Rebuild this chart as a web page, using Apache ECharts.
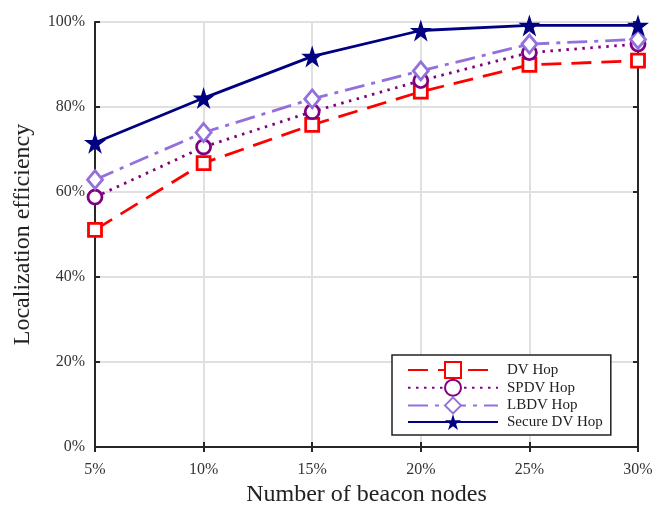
<!DOCTYPE html>
<html><head><meta charset="utf-8">
<script src="https://cdn.jsdelivr.net/npm/echarts@6/dist/echarts.min.js"></script>
<style>html,body{margin:0;padding:0;background:#fff}#c{width:652px;height:505px}</style>
</head><body><div id="c"></div>
<script>
const categories = ['5%', '10%', '15%', '20%', '25%', '30%'];
const dvHop = [51.1, 66.8, 75.8, 83.6, 89.9, 90.9];
const spdvHop = [58.8, 70.6, 78.9, 86.2, 92.8, 94.8];
const lbdvHop = [62.9, 74.0, 81.9, 88.5, 94.8, 95.9];
const secureDvHop = [71.6, 82.1, 91.9, 98.0, 99.2, 99.2];
const yTicks = [0, 20, 40, 60, 80, 100];
const seriesNames = ['DV Hop', 'SPDV Hop', 'LBDV Hop', 'Secure DV Hop'];

const font = 'Liberation Serif, Times New Roman, serif';
const star = 'path://M0 -1 L0.2245 -0.309 L0.951 -0.309 L0.363 0.118 L0.588 0.809 L0 0.382 L-0.588 0.809 L-0.363 0.118 L-0.951 -0.309 L-0.2245 -0.309 Z';
const axisLine = {show: true, lineStyle: {color: '#262626', width: 2}};
const tick = {show: true, inside: true, length: 5, lineStyle: {color: '#262626', width: 2}};

function mk(name, data, color, type, symbol, size, fill) {
  return {
    name, type: 'line', data, symbol, symbolSize: size, showAllSymbol: true,
    lineStyle: {color, width: 2.8, type},
    itemStyle: {color: fill ? color : '#fff', borderColor: color, borderWidth: fill ? 0 : 2.8},
    emphasis: {disabled: true}, z: 3
  };
}

const chart = echarts.init(document.getElementById('c'), null, {renderer: 'canvas'});
chart.setOption({
  animation: false,
  backgroundColor: '#fff',
  grid: {left: 95, top: 22, right: 14, bottom: 58, containLabel: false, outerBoundsMode: 'none'},
  xAxis: [{
    type: 'category', data: categories, boundaryGap: false, position: 'bottom',
    name: 'Number of beacon nodes', nameLocation: 'middle', nameGap: 27,
    nameTextStyle: {fontFamily: font, fontSize: 24, color: '#222'},
    axisLine, axisTick: {...tick, alignWithLabel: true},
    axisLabel: {fontFamily: font, fontSize: 16, color: '#333', margin: 15},
    splitLine: {show: true, lineStyle: {color: '#e0e0e0', width: 2}}
  }, {
    type: 'category', data: categories, boundaryGap: false, position: 'top',
    axisLine, axisTick: tick, axisLabel: {show: false}, splitLine: {show: false}
  }],
  yAxis: [{
    type: 'value', min: 0, max: 100, interval: 20, position: 'left',
    name: 'Localization efficiency', nameLocation: 'middle', nameGap: 60,
    nameTextStyle: {fontFamily: font, fontSize: 24, color: '#222'},
    axisLine, axisTick: tick,
    axisLabel: {fontFamily: font, fontSize: 16, color: '#333', margin: 10,
      formatter: v => yTicks.includes(v) ? v + '%' : ''},
    splitLine: {show: true, lineStyle: {color: '#e0e0e0', width: 2}}
  }, {
    type: 'value', min: 0, max: 100, interval: 20, position: 'right',
    axisLine, axisTick: tick, axisLabel: {show: false}, splitLine: {show: false}
  }],
  legend: {
    data: seriesNames, orient: 'vertical', left: 392, top: 355,
    width: 223, itemWidth: 90, itemHeight: 20, itemGap: -0.3,
    padding: [6, 8, 5, 15],
    backgroundColor: '#fff', borderColor: '#222', borderWidth: 1.5,
    textStyle: {fontFamily: font, fontSize: 15, color: '#222', padding: [0, 0, 0, 4]},
    selectedMode: false
  },
  series: [
    mk(seriesNames[0], dvHop, '#ff0000', [20, 10], 'rect', 13, false),
    mk(seriesNames[1], spdvHop, '#800080', [2.5, 5.5], 'circle', 14, false),
    mk(seriesNames[2], lbdvHop, '#9370db', [20, 7, 4, 7], 'diamond', [15, 18], false),
    mk(seriesNames[3], secureDvHop, '#000080', 'solid', star, 22, true)
  ]
});
</script></body></html>
